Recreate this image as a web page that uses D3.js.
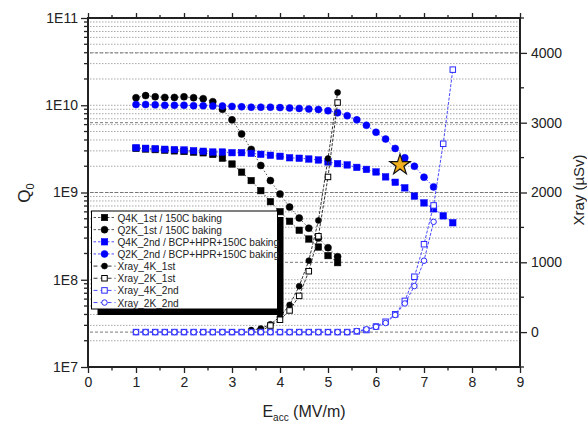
<!DOCTYPE html>
<html>
<head>
<meta charset="utf-8">
<script src="https://cdn.jsdelivr.net/npm/d3@7"></script>
<style>
  body { margin: 0; background: #fff; }
  svg { display: block; font-family: "Liberation Sans", Arial, sans-serif; }
</style>
</head>
<body>
<svg id="chart" width="587" height="424"></svg>
<script>
// Q0 vs Eacc (left, log) and X-ray dose (right)
const eQ4K1st = [1.0,1.2,1.4,1.6,1.8,2.0,2.2,2.4,2.6,2.8,3.0,3.2,3.4,3.6,3.8,4.0,4.2,4.4,4.6,4.8,5.0,5.2];
const q4K1st  = [3.2e9,3.15e9,3.1e9,3.05e9,3.0e9,2.95e9,2.9e9,2.85e9,2.73e9,2.47e9,2.12e9,1.71e9,1.37e9,1.05e9,7.85e8,6.03e8,4.68e8,3.69e8,2.93e8,2.37e8,1.89e8,1.57e8];

const eQ2K1st = [1.0,1.2,1.4,1.6,1.8,2.0,2.2,2.4,2.6,2.8,3.0,3.2,3.4,3.6,3.8,4.0,4.2,4.4,4.6,4.8,5.0,5.2];
const q2K1st  = [1.22e10,1.29e10,1.25e10,1.23e10,1.23e10,1.25e10,1.22e10,1.19e10,1.1e10,9.0e9,6.8e9,4.69e9,3.12e9,2.04e9,1.37e9,9.6e8,6.8e8,5.1e8,3.9e8,3.0e8,2.33e8,1.84e8];

const eQ4K2nd = [1.0,1.2,1.4,1.6,1.8,2.0,2.2,2.4,2.6,2.8,3.0,3.2,3.4,3.6,3.8,4.0,4.2,4.4,4.6,4.8,5.0,5.2,5.4,5.6,5.8,6.0,6.2,6.4,6.6,6.8,7.0,7.2,7.4,7.6];
const q4K2nd  = [3.26e9,3.21e9,3.18e9,3.13e9,3.1e9,3.07e9,3.01e9,2.97e9,2.91e9,2.91e9,2.86e9,2.86e9,2.81e9,2.74e9,2.67e9,2.6e9,2.5e9,2.47e9,2.42e9,2.36e9,2.24e9,2.14e9,2.07e9,1.94e9,1.84e9,1.72e9,1.51e9,1.31e9,1.13e9,9.1e8,7.6e8,6.5e8,5.4e8,4.5e8];

const eQ2K2nd = [1.0,1.2,1.4,1.6,1.8,2.0,2.2,2.4,2.6,2.8,3.0,3.2,3.4,3.6,3.8,4.0,4.2,4.4,4.6,4.8,5.0,5.2,5.4,5.6,5.8,6.0,6.2,6.4,6.6,6.8,7.0,7.2];
const q2K2nd  = [1.02e10,1.02e10,1.01e10,1.0e10,1.0e10,1.0e10,9.9e9,9.9e9,9.8e9,9.8e9,9.7e9,9.6e9,9.5e9,9.5e9,9.5e9,9.4e9,9.3e9,9.2e9,9.05e9,8.95e9,8.65e9,8.2e9,7.6e9,6.8e9,5.9e9,4.9e9,4.1e9,3.2e9,2.5e9,2.0e9,1.5e9,1.16e9];

const eX4K1st = [3.4,3.6,3.8,4.0,4.2,4.4,4.6,4.8,5.0,5.2];
const x4K1st  = [29,50,111,220,389,658,1023,1599,2488,3433];

const eX2K1st = [3.6,3.8,4.0,4.2,4.4,4.6,4.8,5.0,5.2];
const x2K1st  = [14,94,177,310,519,872,1373,2223,3289];

const eX4K2nd = eQ4K2nd;
const x4K2nd  = [0,0,0,0,0,0,0,0,0,0,0,0,0,0,0,0,0,0,0,0,0,0,0,10,30,80,148,255,447,793,1259,1815,2698,3760];

const eX2K2nd = eQ2K2nd;
const x2K2nd  = [0,0,0,0,0,0,0,0,0,0,0,0,0,0,0,0,0,0,0,0,0,0,0,15,40,75,130,245,410,660,1023,1580];

const starPoint = [6.5, 2.07e9];

const xTicks = [0,1,2,3,4,5,6,7,8,9];
const qTicks = [1e7,1e8,1e9,1e10,1e11];
const xrayTicks = [0,1000,2000,3000,4000];

const svg = d3.select("#chart");
const L = 88, R = 520, T = 18, B = 367;

const x = d3.scaleLinear().domain([0, 9]).range([L, R]);
const yQ = d3.scaleLog().domain([1e7, 1e11]).range([B, T]);
const yX = d3.scaleLinear().domain([-500, 4500]).range([B, T]);

// grid
const grid = svg.append("g");
const minorQ = [];
for (let k = 7; k < 11; k++) for (let m = 1; m < 10; m++) minorQ.push(m * Math.pow(10, k));
grid.selectAll("line.gq").data(minorQ.filter(v => v > 1e7 && v < 1e11)).enter().append("line")
  .attr("x1", L + 2).attr("x2", R - 2)
  .attr("y1", d => yQ(d)).attr("y2", d => yQ(d))
  .attr("stroke", "#a8a8a8").attr("stroke-width", 1).attr("stroke-dasharray", "1.5,1.5");
grid.selectAll("line.gx").data(xrayTicks).enter().append("line")
  .attr("x1", L + 2).attr("x2", R - 2)
  .attr("y1", d => yX(d)).attr("y2", d => yX(d))
  .attr("stroke", "#777").attr("stroke-width", 1).attr("stroke-dasharray", "3,2");

// axes
const axisFont = g => g.selectAll("text").attr("font-size", 14).attr("fill", "#222")
  .attr("font-family", "Liberation Sans, Arial, sans-serif");

const gLeft = svg.append("g").attr("transform", `translate(${L},0)`)
  .call(d3.axisLeft(yQ).tickValues(qTicks).tickFormat(d => "1E" + Math.round(Math.log10(d))).tickSize(7).tickPadding(3));
gLeft.call(axisFont);
gLeft.append("g").selectAll("line").data(minorQ.filter(v => v > 1e7 && v < 1e11 && !qTicks.includes(v))).enter().append("line")
  .attr("x1", 0).attr("x2", -4).attr("y1", d => yQ(d)).attr("y2", d => yQ(d)).attr("stroke", "#222");

const gRight = svg.append("g").attr("transform", `translate(${R},0)`)
  .call(d3.axisRight(yX).tickValues(xrayTicks).tickFormat(d3.format("d")).tickSize(7).tickPadding(4));
gRight.call(axisFont);
gRight.append("g").selectAll("line").data(d3.range(-500, 4501, 1000)).enter().append("line")
  .attr("x1", 0).attr("x2", 4).attr("y1", d => yX(d)).attr("y2", d => yX(d)).attr("stroke", "#222");

const gBottom = svg.append("g").attr("transform", `translate(0,${B})`)
  .call(d3.axisBottom(x).tickValues(xTicks).tickSize(6).tickPadding(4));
gBottom.call(axisFont);
gBottom.append("g").selectAll("line").data(d3.range(0.5, 9, 1)).enter().append("line")
  .attr("x1", d => x(d)).attr("x2", d => x(d)).attr("y1", 0).attr("y2", 3.5).attr("stroke", "#222");

const gTop = svg.append("g").attr("transform", `translate(0,${T})`)
  .call(d3.axisTop(x).tickValues(xTicks).tickSize(5).tickFormat(""));
gTop.append("g").selectAll("line").data(d3.range(0.5, 9, 1)).enter().append("line")
  .attr("x1", d => x(d)).attr("x2", d => x(d)).attr("y1", 0).attr("y2", -3).attr("stroke", "#222");

[gLeft, gRight, gBottom, gTop].forEach(g => {
  g.select(".domain").remove();
  g.selectAll("line").attr("stroke", "#222").attr("stroke-width", 1.3);
});
svg.append("rect").attr("x", L).attr("y", T).attr("width", R - L).attr("height", B - T)
  .attr("fill", "none").attr("stroke", "#222").attr("stroke-width", 2);

// series
const series = [
  {name: "Q4K_1st / 150C baking", e: eQ4K1st, v: q4K1st, y: yQ, color: "#000", line: "#555", dash: "1.5,2", shape: "square", fill: true, size: 6.5},
  {name: "Q2K_1st / 150C baking", e: eQ2K1st, v: q2K1st, y: yQ, color: "#000", line: "#555", dash: "1.5,2", shape: "circle", fill: true, size: 7},
  {name: "Q4K_2nd / BCP+HPR+150C baking", e: eQ4K2nd, v: q4K2nd, y: yQ, color: "#0000ff", line: "#4a4aff", dash: "1.5,2", shape: "square", fill: true, size: 6.5},
  {name: "Q2K_2nd / BCP+HPR+150C baking", e: eQ2K2nd, v: q2K2nd, y: yQ, color: "#0000ff", line: "#4a4aff", dash: "1.5,2", shape: "circle", fill: true, size: 7},
  {name: "Xray_4K_1st", e: eX4K1st, v: x4K1st, y: yX, color: "#000", line: "#333", dash: "3,1.5", shape: "circle", fill: true, size: 6},
  {name: "Xray_2K_1st", e: eX2K1st, v: x2K1st, y: yX, color: "#000", line: "#333", dash: "3,1.5", shape: "square", fill: false, size: 5.5},
  {name: "Xray_4K_2nd", e: eX4K2nd, v: x4K2nd, y: yX, color: "#2a2aff", line: "#4a4aff", dash: "3,1.5", shape: "square", fill: false, size: 5.5},
  {name: "Xray_2K_2nd", e: eX2K2nd, v: x2K2nd, y: yX, color: "#2a2aff", line: "#4a4aff", dash: "3,1.5", shape: "circle", fill: false, size: 5.5}
];

function marker(g, s, cx, cy) {
  const el = s.shape === "circle"
    ? g.append("circle").attr("cx", cx).attr("cy", cy).attr("r", s.size / 2)
    : g.append("rect").attr("x", cx - s.size / 2).attr("y", cy - s.size / 2).attr("width", s.size).attr("height", s.size);
  el.attr("fill", s.fill ? s.color : "#fff").attr("stroke", s.color).attr("stroke-width", s.fill ? 0.5 : 1);
}

const plot = svg.append("g");
series.forEach(s => {
  const pts = s.e.map((e, i) => [x(e), s.y(s.v[i])]);
  plot.append("path").attr("d", d3.line()(pts)).attr("fill", "none")
    .attr("stroke", s.line).attr("stroke-width", 1).attr("stroke-dasharray", s.dash);
  const g = plot.append("g");
  pts.forEach(p => marker(g, s, p[0], p[1]));
});

// star
svg.append("path").attr("d", d3.symbol(d3.symbolStar).size(130)())
  .attr("transform", `translate(${x(starPoint[0])},${yQ(starPoint[1])})`)
  .attr("fill", "#f2b01e").attr("stroke", "#111").attr("stroke-width", 1.2);

// legend
const lg = svg.append("g");
const lx = 91.5, ly = 211, lw = 186, lh = 98;
lg.append("rect").attr("x", lx + 6).attr("y", ly + 6).attr("width", lw).attr("height", lh).attr("fill", "#000");
lg.append("rect").attr("x", lx).attr("y", ly).attr("width", lw).attr("height", lh).attr("fill", "#fff").attr("stroke", "#000").attr("stroke-width", 1);
series.forEach((s, i) => {
  const cy = ly + 6.5 + i * 12.15;
  lg.append("line").attr("x1", lx + 2).attr("x2", lx + 24).attr("y1", cy).attr("y2", cy)
    .attr("stroke", s.line).attr("stroke-width", 1).attr("stroke-dasharray", i < 4 ? "2.5,2" : "4,3");
  marker(lg, s, lx + 13, cy);
  lg.append("text").attr("x", lx + 26).attr("y", cy + 4).attr("font-size", 10.1).attr("fill", "#222").text(s.name);
});

// axis titles
const yl = svg.append("text").attr("transform", "translate(30,193) rotate(-90)")
  .attr("text-anchor", "middle").attr("font-size", 17).attr("fill", "#222");
yl.append("tspan").text("Q");
yl.append("tspan").attr("font-size", 11).attr("dy", 4).text("0");

const xl = svg.append("text").attr("x", 304).attr("y", 417).attr("text-anchor", "middle")
  .attr("font-size", 16).attr("fill", "#222");
xl.append("tspan").text("E");
xl.append("tspan").attr("font-size", 10).attr("dy", 4).text("acc");
xl.append("tspan").attr("dy", -4).text(" (MV/m)");

svg.append("text").attr("transform", "translate(584,190) rotate(-90)")
  .attr("text-anchor", "middle").attr("font-size", 15).attr("fill", "#222").text("Xray (µSv)");
</script>
</body>
</html>
